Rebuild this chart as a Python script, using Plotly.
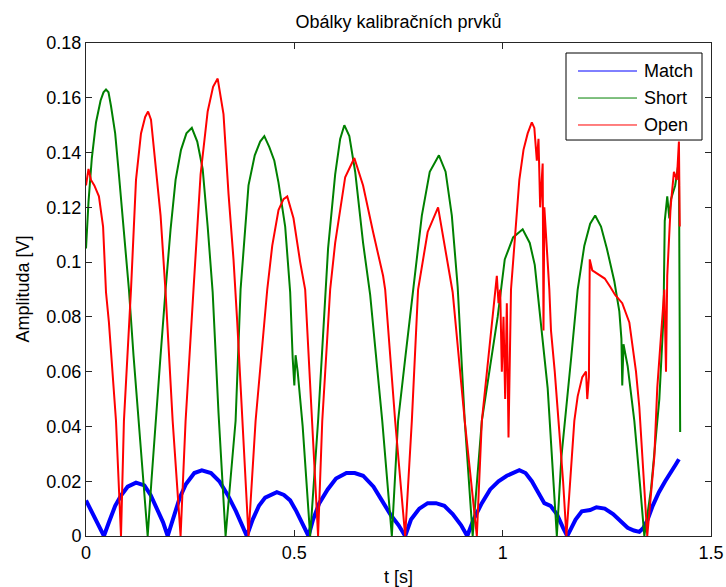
import plotly.graph_objects as go

# ---- data ----
match_t = [0.000, 0.010, 0.020, 0.030, 0.043, 0.055, 0.070, 0.085, 0.100, 0.120, 0.140, 0.155, 0.170, 0.185, 0.196,
           0.210, 0.225, 0.240, 0.260, 0.278, 0.300, 0.320, 0.340, 0.360, 0.375, 0.386,
           0.400, 0.415, 0.430, 0.458, 0.475, 0.490, 0.505, 0.520, 0.534,
           0.545, 0.560, 0.580, 0.600, 0.625, 0.645, 0.665, 0.690, 0.710, 0.730, 0.750, 0.766,
           0.780, 0.800, 0.820, 0.840, 0.860, 0.880, 0.900, 0.915,
           0.930, 0.950, 0.970, 0.990, 1.010, 1.040, 1.055, 1.070, 1.085, 1.100, 1.115, 1.130, 1.145, 1.155,
           1.165, 1.175, 1.190, 1.210, 1.225, 1.245, 1.265, 1.285, 1.300, 1.315, 1.328, 1.338,
           1.348, 1.360, 1.375, 1.390, 1.405, 1.415, 1.423]
match_v = [0.013, 0.010, 0.007, 0.004, 0.000, 0.005, 0.011, 0.015, 0.018, 0.0195, 0.0185, 0.015, 0.010, 0.005, 0.000,
           0.007, 0.014, 0.019, 0.023, 0.024, 0.023, 0.020, 0.015, 0.009, 0.004, 0.000,
           0.006, 0.011, 0.014, 0.016, 0.015, 0.013, 0.009, 0.004, 0.000,
           0.006, 0.012, 0.017, 0.021, 0.023, 0.023, 0.022, 0.018, 0.013, 0.008, 0.004, 0.000,
           0.006, 0.010, 0.012, 0.012, 0.011, 0.008, 0.004, 0.000,
           0.006, 0.012, 0.017, 0.020, 0.022, 0.024, 0.023, 0.020, 0.016, 0.012, 0.011, 0.008, 0.003, 0.000,
           0.003, 0.006, 0.009, 0.0095, 0.0105, 0.010, 0.008, 0.005, 0.003, 0.002, 0.0015, 0.003,
           0.006, 0.011, 0.016, 0.020, 0.024, 0.026, 0.028]

short_t = [0.000, 0.006, 0.014, 0.024, 0.035, 0.042, 0.048, 0.054, 0.060, 0.070, 0.079, 0.090, 0.103, 0.114, 0.126, 0.137, 0.148,
           0.157, 0.167, 0.179, 0.191, 0.203, 0.215, 0.228, 0.241, 0.254, 0.267, 0.280, 0.292, 0.304, 0.318, 0.335,
           0.347, 0.359, 0.371, 0.390, 0.405, 0.418, 0.428, 0.440, 0.452, 0.462, 0.478, 0.490, 0.496, 0.500, 0.503,
           0.508, 0.520, 0.538,
           0.557, 0.574, 0.581, 0.598, 0.610, 0.620, 0.632, 0.646, 0.665, 0.682, 0.711, 0.734,
           0.749, 0.767, 0.785, 0.806, 0.825, 0.847, 0.863, 0.878, 0.892, 0.909, 0.928,
           0.950, 0.970, 0.988, 1.005, 1.025, 1.048, 1.065, 1.077, 1.084, 1.108, 1.130,
           1.141, 1.165, 1.180, 1.196, 1.210, 1.222, 1.236, 1.250, 1.268, 1.280, 1.285, 1.287, 1.290, 1.300,
           1.316, 1.330, 1.340,
           1.356, 1.376, 1.386, 1.389, 1.395, 1.400, 1.404, 1.414, 1.423, 1.426]
short_v = [0.105, 0.122, 0.138, 0.151, 0.159, 0.162, 0.163, 0.162, 0.157, 0.147, 0.132, 0.114, 0.090, 0.066, 0.042, 0.020, 0.000,
           0.020, 0.042, 0.066, 0.090, 0.112, 0.130, 0.141, 0.147, 0.149, 0.144, 0.134, 0.113, 0.089, 0.045, 0.000,
           0.021, 0.042, 0.090, 0.128, 0.139, 0.144, 0.146, 0.142, 0.137, 0.129, 0.113, 0.089, 0.065, 0.055, 0.066,
           0.060, 0.040, 0.000,
           0.042, 0.090, 0.105, 0.132, 0.145, 0.150, 0.146, 0.133, 0.107, 0.088, 0.042, 0.000,
           0.042, 0.066, 0.090, 0.117, 0.133, 0.139, 0.133, 0.117, 0.091, 0.042, 0.000,
           0.042, 0.062, 0.080, 0.101, 0.109, 0.112, 0.107, 0.099, 0.089, 0.054, 0.000,
           0.029, 0.066, 0.090, 0.106, 0.114, 0.117, 0.113, 0.105, 0.093, 0.082, 0.072, 0.055, 0.070, 0.062,
           0.042, 0.018, 0.000,
           0.017, 0.050, 0.080, 0.115, 0.124, 0.116, 0.123, 0.128, 0.137, 0.038]

open_t = [0.000, 0.006, 0.012, 0.020, 0.031, 0.041, 0.048, 0.055, 0.072, 0.084,
          0.091, 0.100, 0.108, 0.120, 0.132, 0.142, 0.149, 0.156, 0.167, 0.179, 0.191, 0.208, 0.227,
          0.239, 0.258, 0.275, 0.292, 0.305, 0.316, 0.330, 0.342, 0.354, 0.363, 0.378, 0.390,
          0.407, 0.421, 0.435, 0.447, 0.462, 0.474, 0.483, 0.498, 0.514, 0.526, 0.543, 0.557,
          0.567, 0.586, 0.598, 0.622, 0.644, 0.665, 0.689, 0.713, 0.718, 0.742, 0.766,
          0.782, 0.797, 0.820, 0.845, 0.861, 0.880, 0.909, 0.938,
          0.950, 0.965, 0.974, 0.982, 0.986, 0.990, 0.994, 0.998, 1.002, 1.006, 1.010, 1.014, 1.020,
          1.030, 1.040, 1.050, 1.060, 1.070, 1.076, 1.082, 1.086, 1.090, 1.096, 1.098, 1.100, 1.108,
          1.112, 1.116, 1.125, 1.135, 1.145, 1.153,
          1.160, 1.172, 1.180, 1.191, 1.200, 1.203, 1.207, 1.209, 1.215, 1.225, 1.235, 1.245, 1.258,
          1.270, 1.287, 1.304, 1.320, 1.328, 1.347,
          1.364, 1.371, 1.380, 1.388, 1.392, 1.395, 1.403, 1.411, 1.418, 1.423, 1.425]
open_v = [0.128, 0.134, 0.130, 0.128, 0.124, 0.113, 0.089, 0.078, 0.042, 0.000,
          0.042, 0.068, 0.090, 0.130, 0.147, 0.153, 0.155, 0.152, 0.134, 0.117, 0.089, 0.042, 0.000,
          0.042, 0.090, 0.132, 0.155, 0.164, 0.167, 0.154, 0.125, 0.101, 0.078, 0.035, 0.000,
          0.042, 0.066, 0.090, 0.106, 0.119, 0.123, 0.124, 0.116, 0.100, 0.090, 0.042, 0.000,
          0.042, 0.090, 0.107, 0.131, 0.138, 0.128, 0.111, 0.095, 0.090, 0.042, 0.000,
          0.042, 0.090, 0.111, 0.120, 0.106, 0.089, 0.042, 0.000,
          0.042, 0.065, 0.078, 0.090, 0.095, 0.085, 0.090, 0.060, 0.080, 0.050, 0.085, 0.036, 0.090,
          0.110, 0.130, 0.141, 0.147, 0.151, 0.149, 0.137, 0.145, 0.120, 0.136, 0.075, 0.120, 0.100,
          0.090, 0.075, 0.060, 0.040, 0.020, 0.000,
          0.017, 0.042, 0.051, 0.058, 0.060, 0.050, 0.058, 0.101, 0.097, 0.096, 0.095, 0.094, 0.091,
          0.088, 0.085, 0.078, 0.060, 0.047, 0.000,
          0.029, 0.054, 0.072, 0.090, 0.060, 0.095, 0.120, 0.133, 0.130, 0.144, 0.113]

series_names = ["Match", "Short", "Open"]
series_colors = ["#0000FF", "#008000", "#FF0000"]

x_ticks = [0, 0.5, 1, 1.5]
x_tick_text = ["0", "0.5", "1", "1.5"]
y_ticks = [0, 0.02, 0.04, 0.06, 0.08, 0.1, 0.12, 0.14, 0.16, 0.18]
y_tick_text = ["0", "0.02", "0.04", "0.06", "0.08", "0.1", "0.12", "0.14", "0.16", "0.18"]

FONT = "Liberation Sans, Arial, sans-serif"
AX = "#262626"

fig = go.Figure()
widths = [4, 2, 2]
for name, color, w, tx, vy in zip(series_names, series_colors, widths,
                                  [match_t, short_t, open_t], [match_v, short_v, open_v]):
    fig.add_trace(go.Scatter(x=tx, y=vy, mode="lines", name=name, showlegend=False,
                             line=dict(color=color, width=w)))

# legend box (MATLAB style) in paper coordinates
leg_x0, leg_x1, leg_y0, leg_y1 = 0.768, 0.9856, 0.8032, 0.9797
fig.add_shape(type="rect", xref="paper", yref="paper", x0=leg_x0, x1=leg_x1, y0=leg_y0, y1=leg_y1,
              line=dict(color="#000000", width=1), fillcolor="white", layer="above")
row_y = [0.9432, 0.8884, 0.8337]
for name, color, ry in zip(series_names, series_colors, row_y):
    fig.add_shape(type="line", xref="paper", yref="paper", x0=0.7872, x1=0.8816, y0=ry, y1=ry,
                  line=dict(color=color, width=1), layer="above")
    fig.add_annotation(xref="paper", yref="paper", x=0.8896, y=ry, text=name, showarrow=False,
                       xanchor="left", yanchor="middle",
                       font=dict(family=FONT, size=18, color="#000000"))

# y-axis title placed like MATLAB's
fig.add_annotation(xref="paper", yref="paper", x=-0.1024, y=0.5, text="Amplituda [V]",
                   textangle=-90, showarrow=False, xanchor="center", yanchor="middle",
                   font=dict(family=FONT, size=18, color="#000000"))

axis_common = dict(showline=True, linecolor=AX, linewidth=1, mirror="ticks",
                   ticks="inside", ticklen=6, tickcolor=AX, showgrid=False, zeroline=False,
                   automargin=False,
                   tickfont=dict(family=FONT, size=18, color="#000000"))

fig.update_layout(
    width=726, height=587,
    margin=dict(l=86, r=15, t=43, b=51),
    paper_bgcolor="white", plot_bgcolor="white",
    font=dict(family=FONT, size=18, color="#000000"),
    title=dict(text="Obálky kalibračních prvků", x=0.549, xanchor="center",
               y=1 - 22 / 587, yanchor="middle", yref="container",
               font=dict(family=FONT, size=18, color="#000000")),
    xaxis=dict(range=[0, 1.5], tickvals=x_ticks, ticktext=x_tick_text,
               title=dict(text="t [s]", standoff=10, font=dict(family=FONT, size=18)), **axis_common),
    yaxis=dict(range=[0, 0.18], tickvals=y_ticks, ticktext=y_tick_text, **axis_common),
    showlegend=False,
)

fig.write_html("out.html")
